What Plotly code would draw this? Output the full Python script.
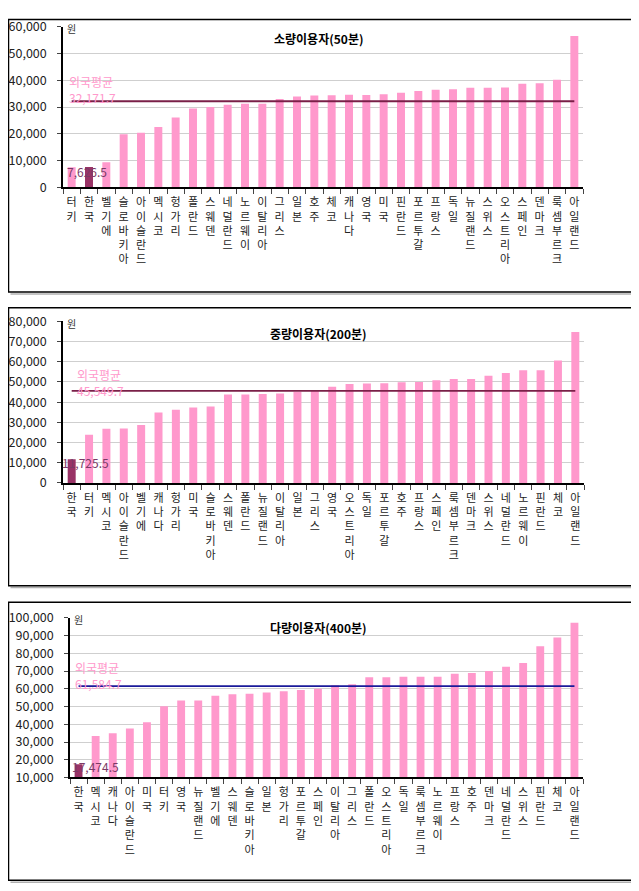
import plotly.graph_objects as go

W, H = 639, 891
OFF = 8  # page body margin: the figure is drawn 8px right and down

# ---------------- data ----------------
cats1 = ["터키", "한국", "벨기에", "슬로바키아", "아이슬란드", "멕시코", "헝가리", "폴란드", "스웨덴", "네덜란드",
         "노르웨이", "이탈리아", "그리스", "일본", "호주", "체코", "캐나다", "영국", "미국", "핀란드",
         "포르투갈", "프랑스", "독일", "뉴질랜드", "스위스", "오스트리아", "스페인", "덴마크", "룩셈부르크", "아일랜드"]
vals1 = [7500, 7626.5, 9400, 19800, 20400, 22600, 26100, 29500, 30000, 30900,
         31200, 31200, 33000, 34000, 34300, 34400, 34600, 34500, 34800, 35400,
         36000, 36500, 36700, 37200, 37200, 37300, 38700, 38900, 40200, 56600]
avg1 = 32171.7

cats2 = ["한국", "터키", "멕시코", "아이슬란드", "벨기에", "캐나다", "헝가리", "미국", "슬로바키아", "스웨덴",
         "폴란드", "뉴질랜드", "이탈리아", "일본", "그리스", "영국", "오스트리아", "독일", "포르투갈", "호주",
         "프랑스", "스페인", "룩셈부르크", "덴마크", "스위스", "네덜란드", "노르웨이", "핀란드", "체코", "아일랜드"]
vals2 = [11725.5, 23900, 26800, 26900, 28700, 34900, 36200, 37300, 37800, 43800,
         43800, 44000, 44300, 45100, 45600, 47600, 49000, 49200, 49400, 49800,
         50000, 50800, 51500, 51500, 53100, 54400, 55800, 55800, 60600, 74800]
avg2 = 45549.7

cats3 = ["한국", "멕시코", "캐나다", "아이슬란드", "미국", "터키", "영국", "뉴질랜드", "벨기에", "스웨덴",
         "슬로바키아", "일본", "헝가리", "포르투갈", "스페인", "이탈리아", "그리스", "폴란드", "오스트리아", "독일",
         "룩셈부르크", "노르웨이", "프랑스", "호주", "덴마크", "네덜란드", "스위스", "핀란드", "체코", "아일랜드"]
vals3 = [17474.5, 33400, 34900, 37700, 41200, 50200, 53400, 53400, 56100, 56900,
         57200, 58000, 58700, 59300, 60000, 62000, 62600, 66500, 66500, 66800,
         66800, 66800, 68500, 68900, 70100, 72400, 74600, 84000, 89000, 97300]
avg3 = 61584.7

titles = ["소량이용자(50분)", "중량이용자(200분)", "다량이용자(400분)"]
y_ranges = [(0, 60000), (0, 80000), (10000, 100000)]
highlight = "한국"
avg_label = "외국평균"
unit_label = "원"

# ---------------- layout helpers ----------------
def px(x):
    return (x - OFF) / W

def py(y):
    return 1 - (y - OFF) / H

FONT = "Noto Sans CJK KR, Noto Sans, sans-serif"
PINK = "#FF99CC"
KOREA = "#993366"

panels = [
    dict(cats=cats1, vals=vals1, avg=avg1, x0=63, x1=583, yt=16, yb=180,
         box=(8.5, 8.5, 634, 287), avg_color="#7a2048",
         lbl_avg=(67, 80), lbl_k=(65, 164), title_y=28),
    dict(cats=cats2, vals=vals2, avg=avg2, x0=63, x1=584, yt=317, yb=482,
         box=(8.5, 303, 634, 587), avg_color="#7a2048",
         lbl_avg=(75, 379), lbl_k=(60, 461), title_y=329),
    dict(cats=cats3, vals=vals3, avg=avg3, x0=70, x1=583, yt=620, yb=783,
         box=(8.5, 604, 635, 888), avg_color="#1a1a9a",
         lbl_avg=(73, 679), lbl_k=(70, 772), title_y=630),
]

fig = go.Figure()
annotations = []
shapes = []

for i, p in enumerate(panels):
    n = i + 1
    xa = "x" if n == 1 else f"x{n}"
    ya = "y" if n == 1 else f"y{n}"
    cats = p["cats"]
    colors = [KOREA if c == highlight else PINK for c in cats]
    fig.add_trace(go.Bar(x=cats, y=p["vals"], marker=dict(color=colors, line=dict(width=0)),
                         xaxis=xa, yaxis=ya, showlegend=False, width=0.46))
    fig.add_trace(go.Scatter(x=cats, y=[p["avg"]] * len(cats), mode="lines",
                             line=dict(color=p["avg_color"], width=1.8),
                             xaxis=xa, yaxis=ya, showlegend=False))
    ticktext = ["<br>".join(list(c)) for c in cats]
    xkey = "xaxis" if n == 1 else f"xaxis{n}"
    ykey = "yaxis" if n == 1 else f"yaxis{n}"
    fig.update_layout(**{
        xkey: dict(domain=[px(p["x0"]), px(p["x1"])], anchor=ya, type="category",
                   range=[-0.5, len(cats) - 0.5], tickmode="array", tickvals=cats, ticktext=ticktext,
                   ticks="outside", tickson="boundaries", ticklen=5, tickcolor="#444",
                   showline=True, linecolor="black", linewidth=1.5, showgrid=False,
                   tickangle=0, ticklabelstandoff=4,
                   tickfont=dict(family=FONT, size=11, color="#222")),
        ykey: dict(domain=[py(p["yb"]), py(p["yt"])], anchor=xa, range=list(y_ranges[i]),
                   dtick=10000, tick0=0, tickformat=",d", showline=True, linecolor="black", linewidth=1.5,
                   showgrid=True, gridcolor="#cfcfcf", gridwidth=1, zeroline=False,
                   ticks="outside", ticklen=4, tickcolor="#444", ticklabelstandoff=8,
                   tickfont=dict(family=FONT, size=12.5, color="#222")),
    })
    # panel box with a light shadow on the right and bottom
    bx0, by0, bx1, by1 = p["box"]
    shapes.append(dict(type="line", xref="paper", yref="paper", x0=px(bx1 + 2), x1=px(bx1 + 2),
                       y0=py(by1 + 2), y1=py(by0 + 2), line=dict(color="#b0b0b0", width=1.5), layer="below"))
    shapes.append(dict(type="line", xref="paper", yref="paper", x0=px(bx0 + 2), x1=px(bx1 + 2),
                       y0=py(by1 + 2), y1=py(by1 + 2), line=dict(color="#b0b0b0", width=1.5), layer="below"))
    shapes.append(dict(type="rect", xref="paper", yref="paper", x0=px(bx0), x1=px(bx1),
                       y0=py(by1), y1=py(by0), line=dict(color="black", width=1.5), layer="below"))
    # title
    annotations.append(dict(text="<b>" + titles[i] + "</b>", xref="paper", yref="paper",
                            x=px(318), y=py(p["title_y"]), xanchor="center", yanchor="middle",
                            showarrow=False, font=dict(family=FONT, size=12, color="black")))
    # unit label
    annotations.append(dict(text=unit_label, xref="paper", yref="paper", x=px(p["x0"] + 2), y=py(p["yt"] + 2),
                            xanchor="left", yanchor="middle", showarrow=False,
                            font=dict(family=FONT, size=10, color="#333")))
    # average label (two lines)
    ax, ay = p["lbl_avg"]
    annotations.append(dict(text=f"{avg_label}<br>{p['avg']:,.1f}", xref="paper", yref="paper",
                            x=px(ax), y=py(ay), xanchor="left", yanchor="middle", align="left",
                            showarrow=False, font=dict(family=FONT, size=12, color=PINK)))
    # korea value label
    kval = p["vals"][cats.index(highlight)]
    kx, ky = p["lbl_k"]
    annotations.append(dict(text=f"{kval:,.1f}", xref="paper", yref="paper", x=px(kx), y=py(ky),
                            xanchor="left", yanchor="middle", showarrow=False,
                            font=dict(family=FONT, size=12, color="#7a3a66")))

fig.update_layout(width=W, height=H, margin=dict(l=0, r=0, t=0, b=0),
                  paper_bgcolor="white", plot_bgcolor="white",
                  bargap=0.54, annotations=annotations, shapes=shapes,
                  font=dict(family=FONT))

fig.write_html("out.html")
